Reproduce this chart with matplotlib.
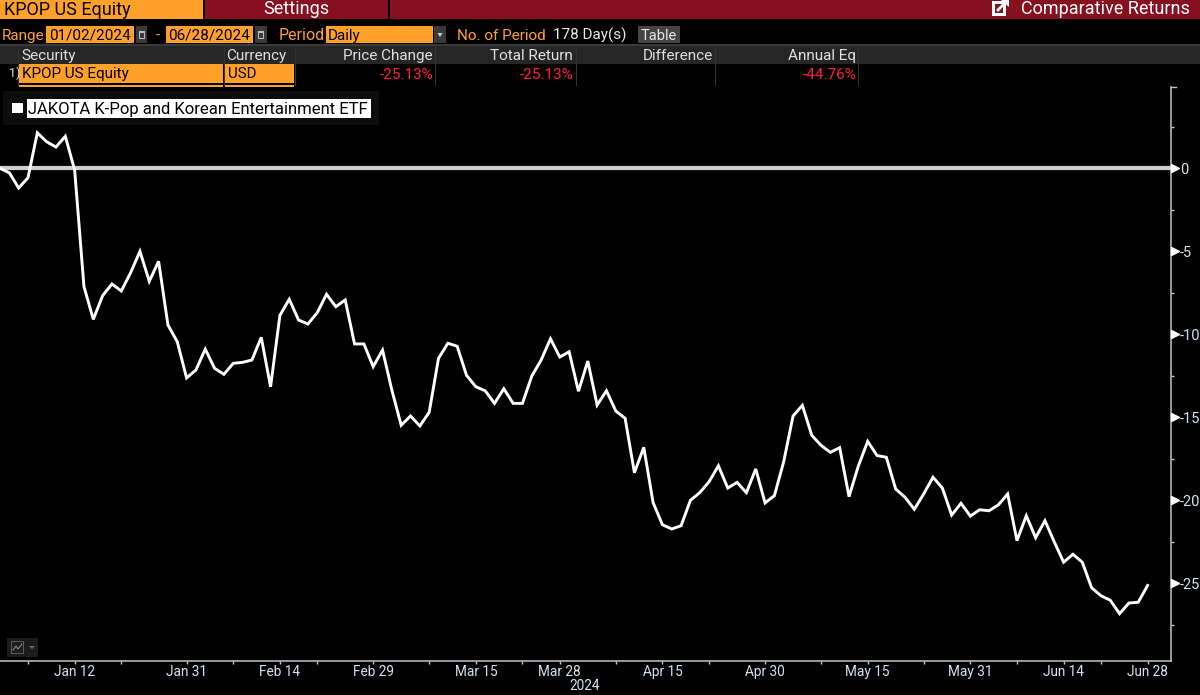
import matplotlib
matplotlib.use("Agg")
import matplotlib.pyplot as plt
from matplotlib.patches import Rectangle, Polygon

returns = [0.0,-0.27,-1.19,-0.57,2.14,1.60,1.28,1.93,-0.10,-7.13,-9.10,-7.67,-6.97,-7.39,-6.29,-5.00,-6.81,-5.60,-9.44,-10.45,
-12.63,-12.15,-10.89,-12.05,-12.41,-11.75,-11.69,-11.55,-10.18,-13.16,-8.86,-7.89,-9.14,-9.38,-8.70,-7.59,-8.34,-7.93,-10.58,-10.58,
-11.95,-10.95,-13.36,-15.48,-14.92,-15.52,-14.70,-11.45,-10.54,-10.72,-12.47,-13.16,-13.40,-14.16,-13.28,-14.16,-14.16,-12.51,-11.55,-10.27,
-11.37,-11.05,-13.43,-11.61,-14.26,-13.40,-14.62,-15.06,-18.34,-16.81,-20.14,-21.47,-21.73,-21.53,-20.00,-19.54,-18.88,-17.92,-19.26,-18.92,
-19.54,-18.11,-20.16,-19.72,-17.67,-14.92,-14.28,-16.08,-16.69,-17.11,-16.83,-19.78,-17.93,-16.45,-17.30,-17.41,-19.32,-19.82,-20.54,-19.62,
-18.61,-19.26,-20.89,-20.18,-20.95,-20.57,-20.63,-20.28,-19.62,-22.43,-20.93,-22.25,-21.23,-22.51,-23.73,-23.25,-23.73,-25.27,-25.75,-26.02,
-26.83,-26.19,-26.14,-25.13]
trading_day = list(range(len(returns)))

x_tick_days = [8,20,30,40,51,60,71,82,93,104,114,123]
x_tick_labels = ["Jan 12","Jan 31","Feb 14","Feb 29","Mar 15","Mar 28","Apr 15","Apr 30","May 15","May 31","Jun 14","Jun 28"]
x_minor_days = [3,13,25,34,46,56,66,76,88,99,109,118]
y_ticks = [0,-5,-10,-15,-20,-25]
y_minor = [2.5,-2.5,-7.5,-12.5,-17.5,-22.5,-27.5]
year_label = "2024"

columns = ["Security","Currency","Price Change","Total Return","Difference","Annual Eq"]
row_values = ["KPOP US Equity","USD","-25.13%","-25.13%","-44.76%"]
series_name = "JAKOTA K-Pop and Korean Entertainment ETF"

plt.rcParams["font.family"] = ["Roboto", "DejaVu Sans"]

ORANGE = "#FFA028"; RED = "#86101F"; LBL = "#D5E3EE"; NEG = "#FF1F3D"; HDR = "#E0E0E0"
W, H = 1200, 695
fig = plt.figure(figsize=(12, 6.95), dpi=100, facecolor="black")

ax = fig.add_axes([0, 1-661/H, 1171/W, (661-87)/H], facecolor="black")
ax.set_xlim(0, 1171/9.33)
ax.set_ylim((168.3-661)/16.6, (168.3-87)/16.6)
ax.axhline(0, color="#CFCFCF", lw=3.0, zorder=2)
ax.plot(trading_day, returns, color="white", lw=2.1, zorder=3, solid_joinstyle="miter")
for s in ("left", "top"):
    ax.spines[s].set_visible(False)
for s in ("right", "bottom"):
    ax.spines[s].set_color("#C4C4C4"); ax.spines[s].set_linewidth(1.1)
ax.yaxis.tick_right()
ax.set_yticks(y_ticks); ax.set_yticklabels([str(t) if t == 0 else f"-{abs(t)}" for t in y_ticks])
ax.set_yticks(y_minor, minor=True)
ax.set_xticks(x_tick_days); ax.set_xticklabels(x_tick_labels)
ax.set_xticks(x_minor_days, minor=True)
ax.tick_params(axis="y", which="major", length=6, width=0.8, color="white", labelcolor=LBL, labelsize=10.5, pad=0.5)
ax.tick_params(axis="y", which="minor", length=2.5, width=1, color="#C4C4C4")
ax.tick_params(axis="x", which="both", length=2.5, width=1, color="#C4C4C4", labelcolor=LBL, labelsize=9.8, pad=0.5)
ax.plot([1.003]*len(y_ticks), y_ticks, ls="none", marker=">", ms=5.5, color="white",
        transform=ax.get_yaxis_transform(), clip_on=False, zorder=4)
ax.plot([1.0, 1.004], [1, 1], color="#C4C4C4", lw=1, transform=ax.transAxes, clip_on=False)

ov = fig.add_axes([0, 0, 1, 1], facecolor="none")
ov.set_xlim(0, W); ov.set_ylim(H, 0); ov.axis("off")

def rect(x0, y0, x1, y1, c, z=1):
    ov.add_patch(Rectangle((x0, y0), x1-x0, y1-y0, fc=c, ec="none", zorder=z))
def txt(x, y, s, c, size=11, ha="left", z=5):
    ov.text(x, y + 0.711*size*100/72/2, s, color=c, fontsize=size, ha=ha, va="baseline", zorder=z)

# top bar
rect(0, 0, 203, 19, ORANGE); rect(205, 0, 388, 19, RED); rect(390, 0, W, 19, RED)
txt(4, 9, "KPOP US Equity", "black", 13)
txt(296, 8, "Settings", "white", 13, "center")
txt(1190, 8, "Comparative Returns", "white", 13, "right")
rect(992, 1, 1006, 16, "white", 2); rect(995, 4, 1003, 13, RED, 3)
ov.plot([998, 1007], [10, 1], color="white", lw=2, zorder=4)
ov.add_patch(Polygon([[1001,0],[1009,0],[1009,7]], fc="white", ec="none", zorder=4))

# control row
txt(2, 34.5, "Range", ORANGE, 11)
rect(46, 26, 134, 43, ORANGE); txt(49, 34.5, "01/02/2024", "black", 11)
rect(136, 26, 147, 43, "#3A3A3A"); rect(138.5, 31, 144.5, 39, "#BDBDBD", 2); rect(139.5, 33, 143.5, 38, "#3A3A3A", 3)
txt(158, 34.5, "-", ORANGE, 11, "center")
rect(166, 26, 253, 43, ORANGE); txt(168, 34.5, "06/28/2024", "black", 11)
rect(255, 26, 267, 43, "#3A3A3A"); rect(258, 31, 264, 39, "#BDBDBD", 2); rect(259, 33, 263, 38, "#3A3A3A", 3)
txt(279, 34.5, "Period", ORANGE, 11.5)
rect(326, 26, 433, 43, ORANGE); txt(328, 34.5, "Daily", "black", 11)
rect(434, 26, 446, 43, "#3A3A3A")
ov.add_patch(Polygon([[437.5,33],[442.5,33],[440,37]], fc="#D0D0D0", ec="none", zorder=3))
txt(457, 34.5, "No. of Period", ORANGE, 11)
txt(553, 34.5, "178 Day(s)", "#E8E8E8", 11)
rect(638, 26, 680, 43, "#444444"); txt(659, 34.5, "Table", "#E8E8E8", 10.5, "center")

# table
rect(0, 44, W, 46, "#3A3A3A"); rect(0, 46, W, 64, "#262626")
for cx in (18, 224, 295, 435, 576, 715, 858):
    rect(cx-0.5, 45, cx+0.5, 86, "#333333", 2)
txt(21, 54.5, columns[0], HDR, 11); txt(226, 54.5, columns[1], HDR, 11)
for rx, s in zip((433, 573, 713, 856), columns[2:]):
    txt(rx, 54.5, s, HDR, 11, "right")
txt(9, 73, "1)", LBL, 9)
rect(19, 64, 223, 83, ORANGE); rect(225, 64, 294, 83, ORANGE)
rect(19, 84.5, 223, 87, ORANGE); rect(225, 84.5, 294, 87, ORANGE)
txt(22, 73, row_values[0], "black", 11); txt(228, 73, row_values[1], "black", 10.8)
for rx, s in zip((434, 574, 857), row_values[2:]):
    txt(rx, 73.5, s, NEG, 11, "right")

# legend
rect(3, 91, 379, 125, "#0D0D0D")
rect(12, 103, 23, 113, "white", 2)
rect(27, 99, 371, 118, "white", 2)
txt(28, 108.5, series_name, "black", 12)

# chart-type icon
rect(7, 638, 38, 657, "#1C1C1C")
rect(11, 641, 24, 654, "#5A5A5A", 2); rect(12, 642, 23, 653, "#1C1C1C", 3)
ov.plot([13, 16, 18, 22], [650, 646, 649, 644], color="#8A8A8A", lw=0.8, zorder=4)
ov.add_patch(Polygon([[29,646],[35,646],[32,649]], fc="#666666", ec="none", zorder=3))

txt(585, 685.5, year_label, LBL, 9.8, "center")
fig.savefig("out.png", dpi=100, facecolor="black")
